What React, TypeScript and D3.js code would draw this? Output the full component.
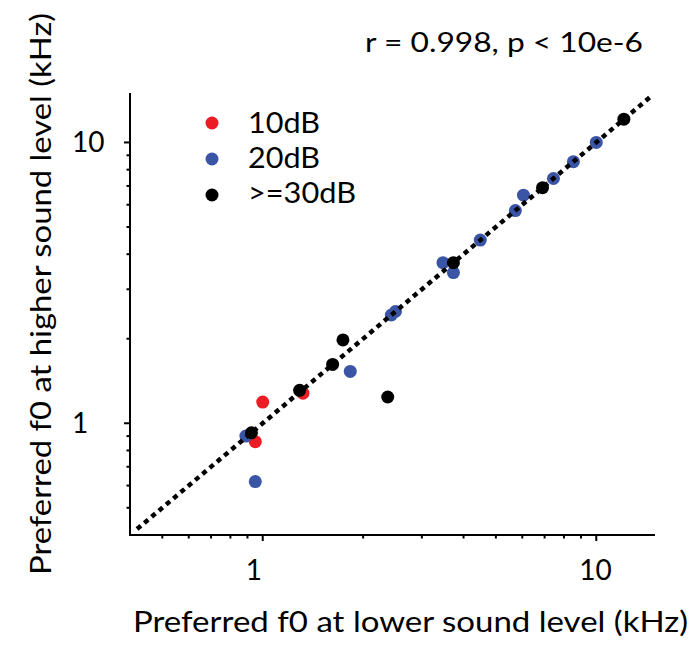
import React from "react";
import * as d3 from "d3";

const redX = [1.0, 1.32, 0.95];
const redY = [1.19, 1.28, 0.86];
const blueX = [0.89, 0.95, 1.83, 2.43, 2.5, 3.47, 3.73, 4.49, 5.72, 6.05, 7.44, 8.54, 10.0];
const blueY = [0.9, 0.62, 1.53, 2.43, 2.5, 3.73, 3.44, 4.49, 5.72, 6.49, 7.44, 8.54, 10.0];
const blackX = [0.925, 1.29, 1.62, 1.74, 2.37, 3.73, 6.9, 12.1];
const blackY = [0.925, 1.31, 1.62, 1.98, 1.24, 3.73, 6.9, 12.1];

const majorTicks = [1, 10];
const minorTicks = [0.5, 0.6, 0.7, 0.8, 0.9, 2, 3, 4, 5, 6, 7, 8, 9];
const legendLabels = ["10dB", "20dB", ">=30dB"];
const legendWidths = [72, 72, 108];
const seriesColors = ["#ec1c24", "#3a55a6", "#000000"];
const titleText = "r = 0.998, p < 10e-6";
const xLabel = "Preferred f0 at lower sound level (kHz)";
const yLabel = "Preferred f0 at higher sound level (kHz)";
const domain = [0.4, 15];
const diag = [0.42, 14.8];

export default function App() {
  const x = d3.scaleLog().domain(domain).range([130, 655]);
  const y = d3.scaleLog().domain(domain).range([535, 93]);
  const font = "Lato, 'Open Sans', sans-serif";
  const series = [
    { xs: redX, ys: redY, c: seriesColors[0] },
    { xs: blueX, ys: blueY, c: seriesColors[1] },
    { xs: blackX, ys: blackY, c: seriesColors[2] },
  ];
  const line = d3.line<number>().x((d) => x(d)).y((d) => y(d));
  return (
    <svg
      width={695}
      height={645}
      style={{ position: "absolute", left: 0, top: 0, background: "#fff" }}
      fontFamily={font}
    >
      <rect x={0} y={0} width={695} height={645} fill="#fff" />
      {/* axes */}
      <line x1={x(domain[0])} x2={x(domain[1])} y1={y(domain[0])} y2={y(domain[0])} stroke="#000" strokeWidth={2} />
      <line x1={x(domain[0])} x2={x(domain[0])} y1={y(domain[0]) + 1} y2={y(domain[1])} stroke="#000" strokeWidth={2} />
      {majorTicks.map((t) => (
        <g key={"mx" + t}>
          <line x1={x(t)} x2={x(t)} y1={y(domain[0])} y2={y(domain[0]) + 6} stroke="#000" strokeWidth={2} />
          <line x1={x(domain[0])} x2={x(domain[0]) - 6} y1={y(t)} y2={y(t)} stroke="#000" strokeWidth={2} />
          <text x={x(t) - 17} y={580} fontSize={28} textAnchor="start">{t}</text>
          <text x={72} y={y(t) + 10} fontSize={28} textAnchor="start">{t}</text>
        </g>
      ))}
      {minorTicks.map((t) => (
        <g key={"mn" + t}>
          <line x1={x(t)} x2={x(t)} y1={y(domain[0])} y2={y(domain[0]) + 3.5} stroke="#000" strokeWidth={2} />
          <line x1={x(domain[0])} x2={x(domain[0]) - 3.5} y1={y(t)} y2={y(t)} stroke="#000" strokeWidth={2} />
        </g>
      ))}
      {/* points */}
      {series.map((s, si) =>
        s.xs.map((v, i) => (
          <circle key={si + "-" + i} cx={x(v)} cy={y(s.ys[i])} r={6.5} fill={s.c} />
        ))
      )}
      {/* diagonal */}
      <path d={line(diag) || ""} stroke="#000" strokeWidth={4.5} strokeDasharray="5,4.5" fill="none" />
      {/* legend */}
      {legendLabels.map((l, i) => (
        <g key={l}>
          <circle cx={212} cy={123 + i * 36} r={6.5} fill={seriesColors[i]} />
          <text x={248} y={133 + i * 35} fontSize={29} textLength={legendWidths[i]} lengthAdjust="spacingAndGlyphs">{l}</text>
        </g>
      ))}
      <text x={365} y={52} fontSize={27} textLength={278} lengthAdjust="spacingAndGlyphs">{titleText}</text>
      <text x={133} y={632} fontSize={29} textLength={555} lengthAdjust="spacingAndGlyphs">{xLabel}</text>
      <text transform="translate(51,575) rotate(-90)" fontSize={29} textLength={562} lengthAdjust="spacingAndGlyphs">{yLabel}</text>
    </svg>
  );
}
